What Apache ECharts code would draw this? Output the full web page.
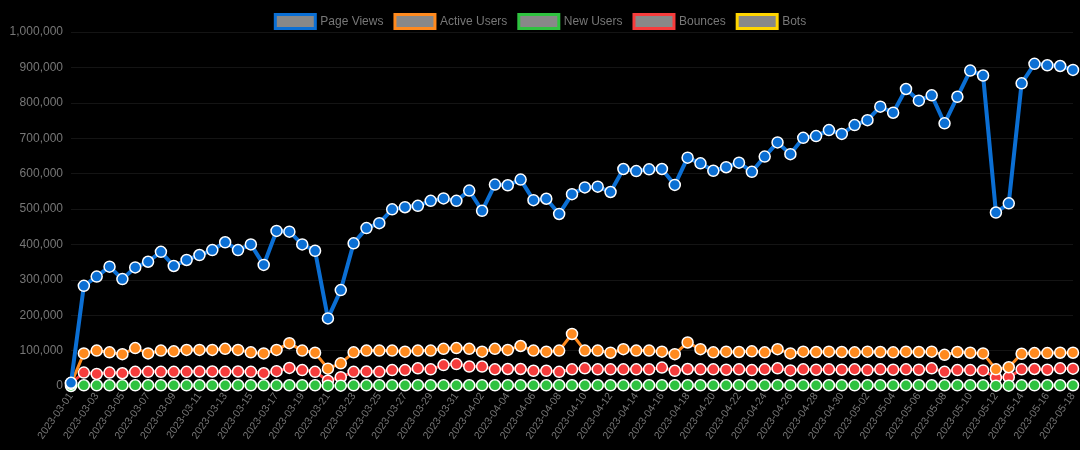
<!DOCTYPE html>
<html>
<head>
<meta charset="utf-8">
<script src="https://cdn.jsdelivr.net/npm/echarts@6/dist/echarts.min.js"></script>
<style>
  html, body { margin: 0; padding: 0; background: #000; }
  #chart { width: 1080px; height: 450px; }
</style>
</head>
<body>
<div id="chart"></div>
<script>
const categories = [
  '2023-03-01','2023-03-02','2023-03-03','2023-03-04','2023-03-05','2023-03-06','2023-03-07','2023-03-08','2023-03-09','2023-03-10',
  '2023-03-11','2023-03-12','2023-03-13','2023-03-14','2023-03-15','2023-03-16','2023-03-17','2023-03-18','2023-03-19','2023-03-20',
  '2023-03-21','2023-03-22','2023-03-23','2023-03-24','2023-03-25','2023-03-26','2023-03-27','2023-03-28','2023-03-29','2023-03-30',
  '2023-03-31','2023-04-01','2023-04-02','2023-04-03','2023-04-04','2023-04-05','2023-04-06','2023-04-07','2023-04-08','2023-04-09',
  '2023-04-10','2023-04-11','2023-04-12','2023-04-13','2023-04-14','2023-04-15','2023-04-16','2023-04-17','2023-04-18','2023-04-19',
  '2023-04-20','2023-04-21','2023-04-22','2023-04-23','2023-04-24','2023-04-25','2023-04-26','2023-04-27','2023-04-28','2023-04-29',
  '2023-04-30','2023-05-01','2023-05-02','2023-05-03','2023-05-04','2023-05-05','2023-05-06','2023-05-07','2023-05-08','2023-05-09',
  '2023-05-10','2023-05-11','2023-05-12','2023-05-13','2023-05-14','2023-05-15','2023-05-16','2023-05-17','2023-05-18'
];

const seriesNames = ['Page Views', 'Active Users', 'New Users', 'Bounces', 'Bots'];

const pageViews = [
  9000, 283000, 309000, 337000, 302000, 335000, 351000, 379000, 339000, 356000,
  370000, 384000, 406000, 384000, 400000, 342000, 438000, 436000, 400000, 382000,
  191000, 271000, 403000, 446000, 460000, 499000, 505000, 509000, 523000, 530000,
  523000, 552000, 495000, 569000, 567000, 583000, 525000, 529000, 486000, 542000,
  561000, 563000, 548000, 613000, 607000, 612000, 613000, 568000, 645000, 629000,
  608000, 618000, 631000, 605000, 648000, 688000, 655000, 701000, 706000, 723000,
  712000, 737000, 751000, 789000, 772000, 839000, 806000, 821000, 742000, 817000,
  891000, 877000, 490000, 516000, 855000, 910000, 906000, 904000, 893000
];

const activeUsers = [
  6000, 92000, 100000, 95000, 90000, 107000, 92000, 100000, 98000, 102000,
  102000, 102000, 105000, 102000, 95000, 92000, 102000, 121000, 100000, 94000,
  49000, 64000, 95000, 100000, 100000, 100000, 97000, 100000, 100000, 105000,
  107000, 105000, 97000, 105000, 102000, 113000, 100000, 97000, 100000, 147000,
  100000, 100000, 94000, 104000, 100000, 100000, 97000, 90000, 123000, 104000,
  95000, 97000, 96000, 98000, 95000, 104000, 92000, 97000, 96000, 97000,
  96000, 95000, 97000, 96000, 95000, 97000, 96000, 97000, 88000, 96000,
  94000, 92000, 47000, 53000, 91000, 93000, 93000, 94000, 94000
];

const newUsers = [
  0, 2000, 2000, 2000, 2000, 2000, 2000, 2000, 2000, 2000,
  2000, 2000, 2000, 2000, 2000, 2000, 2000, 2000, 2000, 2000,
  1000, 1000, 2000, 2000, 2000, 2000, 2000, 2000, 2000, 2000,
  2000, 2000, 2000, 2000, 2000, 2000, 2000, 2000, 2000, 2000,
  2000, 2000, 2000, 2000, 2000, 2000, 2000, 2000, 2000, 2000,
  2000, 2000, 2000, 2000, 2000, 2000, 2000, 2000, 2000, 2000,
  2000, 2000, 2000, 2000, 2000, 2000, 2000, 2000, 2000, 2000,
  2000, 2000, 1000, 1000, 2000, 2000, 2000, 2000, 2000
];

const bounces = [
  8000, 38000, 34000, 38000, 36000, 40000, 40000, 40000, 40000, 40000,
  41000, 41000, 40000, 41000, 40000, 36000, 42000, 51000, 45000, 40000,
  15000, 25000, 40000, 41000, 40000, 45000, 45000, 50000, 47000, 59000,
  62000, 55000, 55000, 47000, 48000, 48000, 43000, 43000, 40000, 47000,
  50000, 47000, 47000, 47000, 47000, 47000, 52000, 43000, 48000, 47000,
  47000, 46000, 47000, 45000, 47000, 50000, 44000, 47000, 46000, 47000,
  46000, 47000, 45000, 47000, 46000, 47000, 46000, 50000, 40000, 45000,
  45000, 44000, 24000, 25000, 47000, 48000, 46000, 50000, 49000
];

const bots = [
  0, 0, 0, 0, 0, 0, 0, 0, 0, 0,
  0, 0, 0, 0, 0, 0, 0, 0, 0, 0,
  0, 0, 0, 0, 0, 0, 0, 0, 0, 0,
  0, 0, 0, 0, 0, 0, 0, 0, 0, 0,
  0, 0, 0, 0, 0, 0, 0, 0, 0, 0,
  0, 0, 0, 0, 0, 0, 0, 0, 0, 0,
  0, 0, 0, 0, 0, 0, 0, 0, 0, 0,
  0, 0, 0, 0, 0, 0, 0, 0, 0
];

const colors = ['#0b6fd4', '#ff8a1e', '#2fc240', '#f63c3c', '#ffd500'];
const seriesData = [pageViews, activeUsers, newUsers, bounces, bots];
const lineWidths = [4, 3, 3, 3, 3];

const chart = echarts.init(document.getElementById('chart'));

const option = {
  backgroundColor: 'transparent',
  color: colors,
  animation: false,
  legend: {
    top: 8,
    left: 'center',
    icon: 'rect',
    itemWidth: 40,
    itemHeight: 14,
    itemGap: 10,
    textStyle: { color: '#777', fontSize: 12, fontFamily: 'sans-serif' },
    itemStyle: { color: '#888', borderWidth: 3 },
    data: seriesNames.map((n, i) => ({ name: n, itemStyle: { borderColor: colors[i], color: '#888' } }))
  },
  grid: { left: 71, right: 7, top: 32, bottom: 64, containLabel: false },
  xAxis: {
    type: 'category',
    boundaryGap: false,
    data: categories,
    axisLine: { lineStyle: { color: '#333' } },
    axisTick: { lineStyle: { color: '#333' } },
    axisLabel: { interval: 1, rotate: 55, color: '#777', fontSize: 10.5, margin: 8 }
  },
  yAxis: {
    type: 'value',
    min: 0,
    max: 1000000,
    interval: 100000,
    axisLine: { show: false },
    axisLabel: { color: '#777', fontSize: 12 },
    splitLine: { lineStyle: { color: '#141414' } }
  },
  series: seriesNames.map((name, i) => ({
    name: name,
    type: 'line',
    data: seriesData[i],
    z: i === 4 ? 1 : 2 + (4 - i),
    symbol: 'circle',
    symbolSize: 11,
    showSymbol: i !== 4,
    showAllSymbol: true,
    lineStyle: { width: lineWidths[i], color: colors[i] },
    itemStyle: { color: colors[i], borderColor: '#fff', borderWidth: 1.5 }
  }))
};

chart.setOption(option);
</script>
</body>
</html>
